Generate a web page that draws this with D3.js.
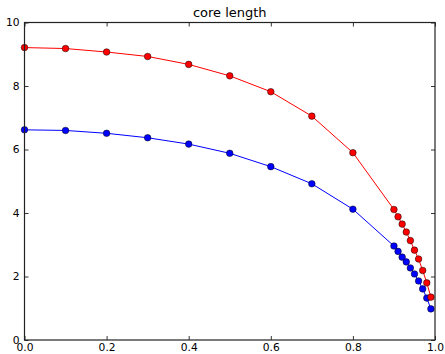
<!DOCTYPE html>
<html>
<head>
<meta charset="utf-8">
<script src="https://cdn.jsdelivr.net/npm/d3@7"></script>
<style>
  html, body { margin: 0; padding: 0; background: #fff; }
  svg { display: block; }
  text { font-family: "DejaVu Sans", sans-serif; fill: #000; }
</style>
</head>
<body>
<svg id="chart" width="445" height="354"></svg>
<script>
// Sampled positions along the core
const positions = [0.0, 0.1, 0.2, 0.3, 0.4, 0.5, 0.6, 0.7, 0.8,
                   0.90, 0.91, 0.92, 0.93, 0.94, 0.95, 0.96, 0.97, 0.98, 0.99];
// Core length, upper series (red)
const redValues = [9.21, 9.18, 9.07, 8.93, 8.68, 8.32, 7.82, 7.05, 5.90,
                   4.11, 3.88, 3.65, 3.40, 3.13, 2.83, 2.55, 2.19, 1.80, 1.35];
// Core length, lower series (blue)
const blueValues = [6.62, 6.60, 6.51, 6.37, 6.17, 5.88, 5.46, 4.92, 4.12,
                    2.96, 2.79, 2.61, 2.46, 2.27, 2.08, 1.86, 1.61, 1.32, 0.98];
const xTicks = [0.0, 0.2, 0.4, 0.6, 0.8, 1.0];
const yTicks = [0, 2, 4, 6, 8, 10];
const title = "core length";

const svg = d3.select("#chart");
const plotLeft = 24.5, plotRight = 435, plotTop = 22.5, plotBottom = 340;

const x = d3.scaleLinear().domain([0, 1]).range([plotLeft, plotRight]);
const y = d3.scaleLinear().domain([0, 10]).range([plotBottom, plotTop]);

const tickLen = 4;
const fontSize = 10.7;

// Axes: ticks pointing inward on all four sides
const axBottom = d3.axisBottom(x).tickValues(xTicks).tickFormat(d3.format(".1f"))
  .tickSizeInner(-tickLen).tickSizeOuter(0).tickPadding(3.5);
const axTop = d3.axisTop(x).tickValues(xTicks).tickFormat("")
  .tickSizeInner(-tickLen).tickSizeOuter(0);
const axLeft = d3.axisLeft(y).tickValues(yTicks).tickFormat(d3.format("d"))
  .tickSizeInner(-tickLen).tickSizeOuter(0).tickPadding(5);
const axRight = d3.axisRight(y).tickValues(yTicks).tickFormat("")
  .tickSizeInner(-tickLen).tickSizeOuter(0);

function styleAxis(g) {
  g.select(".domain").remove();
  g.selectAll(".tick line").attr("stroke", "#000").attr("stroke-width", 0.8);
  g.selectAll(".tick text").attr("font-family", "DejaVu Sans, sans-serif")
    .attr("font-size", fontSize).attr("fill", "#000");
}

svg.append("g").attr("transform", `translate(0,${plotBottom})`).call(axBottom).call(styleAxis);
svg.append("g").attr("transform", `translate(0,${plotTop})`).call(axTop).call(styleAxis);
svg.append("g").attr("transform", `translate(${plotLeft},0)`).call(axLeft).call(styleAxis);
svg.append("g").attr("transform", `translate(${plotRight},0)`).call(axRight).call(styleAxis);

// Series lines and markers
const series = [
  { values: blueValues, color: "#0000ff" },
  { values: redValues, color: "#ff0000" }
];
const line = d3.line().x(d => x(d[0])).y(d => y(d[1]));

const plot = svg.append("g");
series.forEach(s => {
  const pts = positions.map((p, i) => [p, s.values[i]]);
  plot.append("path").datum(pts)
    .attr("d", line).attr("fill", "none")
    .attr("stroke", s.color).attr("stroke-width", 1);
  plot.selectAll(null).data(pts).enter().append("circle")
    .attr("cx", d => x(d[0])).attr("cy", d => y(d[1])).attr("r", 3.3)
    .attr("fill", s.color).attr("stroke", "#000").attr("stroke-width", 0.5);
});

// Frame
svg.append("rect")
  .attr("x", plotLeft).attr("y", plotTop)
  .attr("width", plotRight - plotLeft).attr("height", plotBottom - plotTop)
  .attr("fill", "none").attr("stroke", "#222").attr("stroke-width", 1.2);

// Title
svg.append("text")
  .attr("x", (plotLeft + plotRight) / 2).attr("y", 17)
  .attr("text-anchor", "middle").attr("font-size", 13)
  .text(title);
</script>
</body>
</html>
